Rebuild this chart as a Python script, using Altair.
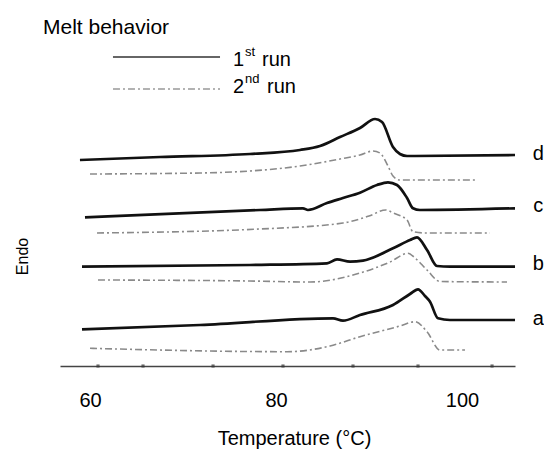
import altair as alt
import pandas as pd

FONT = "Liberation Sans"

# ---- data: temperature (degC) and offset heat-flow signal (arbitrary units) ----
# curve a
a1_T = [59.14, 71.83, 86.13, 87.20, 89.03, 92.58, 94.41, 95.27, 96.02, 96.56, 97.42, 98.71, 105.70]
a1_h = [36.7, 41.0, 47.7, 45.3, 51.0, 61.0, 72.0, 76.7, 70.0, 64.3, 47.7, 46.0, 46.0]
a2_T = [60.00, 81.18, 85.81, 89.03, 93.33, 94.95, 96.24, 97.63, 100.32]
a2_h = [17.7, 14.3, 20.0, 29.3, 40.0, 44.3, 34.3, 16.0, 16.0]
# curve b
b1_T = [59.14, 77.20, 85.48, 86.56, 87.96, 89.35, 92.58, 94.41, 95.16, 96.24, 97.31, 98.71, 105.70]
b1_h = [99.3, 101.0, 102.7, 106.7, 104.3, 105.3, 117.7, 126.0, 128.7, 116.0, 100.0, 99.3, 99.3]
b2_T = [60.86, 77.20, 83.66, 89.03, 92.26, 94.19, 94.95, 96.24, 97.63, 104.84]
b2_h = [86.0, 85.0, 84.0, 93.0, 104.0, 112.7, 108.0, 96.0, 84.5, 84.0]
# curve c
c1_T = [59.46, 78.28, 82.90, 83.44, 85.48, 87.20, 89.03, 90.86, 92.04, 93.01, 94.09, 94.73, 95.48, 105.70]
c1_h = [148.7, 156.0, 157.7, 156.0, 163.0, 168.0, 173.3, 181.0, 183.7, 181.0, 168.0, 157.7, 156.0, 157.7]
c2_T = [60.75, 78.28, 87.20, 90.00, 91.80, 92.60, 94.09, 94.73, 96.02, 103.01]
c2_h = [133.0, 137.0, 143.0, 150.0, 156.0, 153.0, 146.0, 134.3, 133.0, 133.0]
# curve d
d1_T = [58.92, 67.53, 77.20, 82.58, 84.73, 86.88, 89.03, 90.65, 91.40, 92.58, 93.33, 94.09, 105.70]
d1_h = [206.0, 209.0, 212.0, 216.0, 220.0, 229.0, 238.0, 247.0, 244.0, 219.0, 212.0, 210.0, 211.0]
d2_T = [60.00, 71.83, 77.20, 82.58, 86.88, 89.03, 90.43, 91.18, 92.04, 92.58, 93.33, 101.40]
d2_h = [192.0, 193.0, 195.0, 200.0, 207.0, 211.0, 215.0, 213.0, 200.0, 190.0, 186.0, 186.0]

curve_names = ["a", "b", "c", "d"]
label_h = [41, 96, 154, 206]
label_T = 108.2

tick_values = [60, 80, 100]
tick_dots_T = [60.86, 65.70, 73.23, 80.75, 88.28, 95.27, 103.23]

legend_line_T = [62.47, 73.98]
legend_line_h = [309, 277]
legend_text_T = 75.38
legend_text_h = [300.5, 273]


def frame(T, h, name):
    return pd.DataFrame({"T": T, "h": h, "curve": name})


solid_df = pd.concat([frame(a1_T, a1_h, "a"), frame(b1_T, b1_h, "b"),
                      frame(c1_T, c1_h, "c"), frame(d1_T, d1_h, "d")])
dashed_df = pd.concat([frame(a2_T, a2_h, "a"), frame(b2_T, b2_h, "b"),
                       frame(c2_T, c2_h, "c"), frame(d2_T, d2_h, "d")])

x_scale = alt.Scale(domain=[56.774, 105.699], nice=False, zero=False)
y_scale = alt.Scale(domain=[0, 326], nice=False, zero=False)

x_axis = alt.Axis(values=tick_values, title="Temperature (°C)", ticks=False, grid=False,
                  domainColor="#444444", domainWidth=1.5,
                  labelFont=FONT, labelFontSize=20, labelColor="#000000", labelPadding=24,
                  titleFont=FONT, titleFontSize=20, titleFontWeight="normal", titleColor="#000000",
                  titleX=234, titleY=78, titleAlign="center", titleBaseline="alphabetic")
y_axis = alt.Axis(title="Endo", domain=False, ticks=False, labels=False, grid=False,
                  titleFont=FONT, titleFontSize=16, titleFontWeight="normal", titleColor="#000000",
                  titleX=-38, titleY=216, titleAngle=270, titleAlign="center", titleBaseline="middle")

X = alt.X("T:Q", scale=x_scale, axis=x_axis)
Y = alt.Y("h:Q", scale=y_scale, axis=y_axis)

solid = alt.Chart(solid_df).mark_line(color="#111111", strokeWidth=2.7, interpolate="monotone").encode(
    x=X, y=Y, detail="curve:N")
dashed = alt.Chart(dashed_df).mark_line(color="#8a8a8a", strokeWidth=1.6, strokeDash=[7, 3, 2, 3],
                                        interpolate="monotone").encode(x=X, y=Y, detail="curve:N")

dots = alt.Chart(pd.DataFrame({"T": tick_dots_T, "h": [0] * len(tick_dots_T)})).mark_square(
    size=10, color="#333333").encode(x=X, y=Y)

labels = alt.Chart(pd.DataFrame({"T": [label_T] * 4, "h": label_h, "s": curve_names})).mark_text(
    font=FONT, fontSize=20, color="#000000", align="center", baseline="alphabetic").encode(
    x=X, y=Y, text="s:N")

leg1 = alt.Chart(pd.DataFrame({"T": legend_line_T, "h": [legend_line_h[0]] * 2})).mark_line(
    color="#666666", strokeWidth=2).encode(x=X, y=Y)
leg2 = alt.Chart(pd.DataFrame({"T": legend_line_T, "h": [legend_line_h[1]] * 2})).mark_line(
    color="#999999", strokeWidth=1.6, strokeDash=[7, 3, 2, 3]).encode(x=X, y=Y)


def txt(h, s, size=20, dx=0, dy=0):
    return alt.Chart(pd.DataFrame({"T": [legend_text_T], "h": [h], "s": [s]})).mark_text(
        font=FONT, fontSize=size, color="#000000", align="left", baseline="alphabetic",
        dx=dx, dy=dy).encode(x=X, y=Y, text="s:N")


legend_texts = [
    txt(legend_text_h[0], "1"), txt(legend_text_h[0], "st", 13, 12, -10), txt(legend_text_h[0], "run", 20, 29),
    txt(legend_text_h[1], "2"), txt(legend_text_h[1], "nd", 13, 12, -10), txt(legend_text_h[1], "run", 20, 34),
]

chart = alt.layer(dashed, solid, dots, labels, leg1, leg2, *legend_texts).properties(
    width=455, height=326,
    autosize=alt.AutoSizeParams(type="none"),
    padding={"left": 52, "top": 32, "right": 29, "bottom": 87},
    title=alt.TitleParams("Melt behavior", anchor="start", frame="group", dx=-17, dy=25, offset=10,
                          baseline="alphabetic", fontSize=21, font=FONT, fontWeight="normal",
                          color="#000000"),
).configure_view(stroke=None)

chart.save("out.html", embed_options={"renderer": "svg", "actions": False})
